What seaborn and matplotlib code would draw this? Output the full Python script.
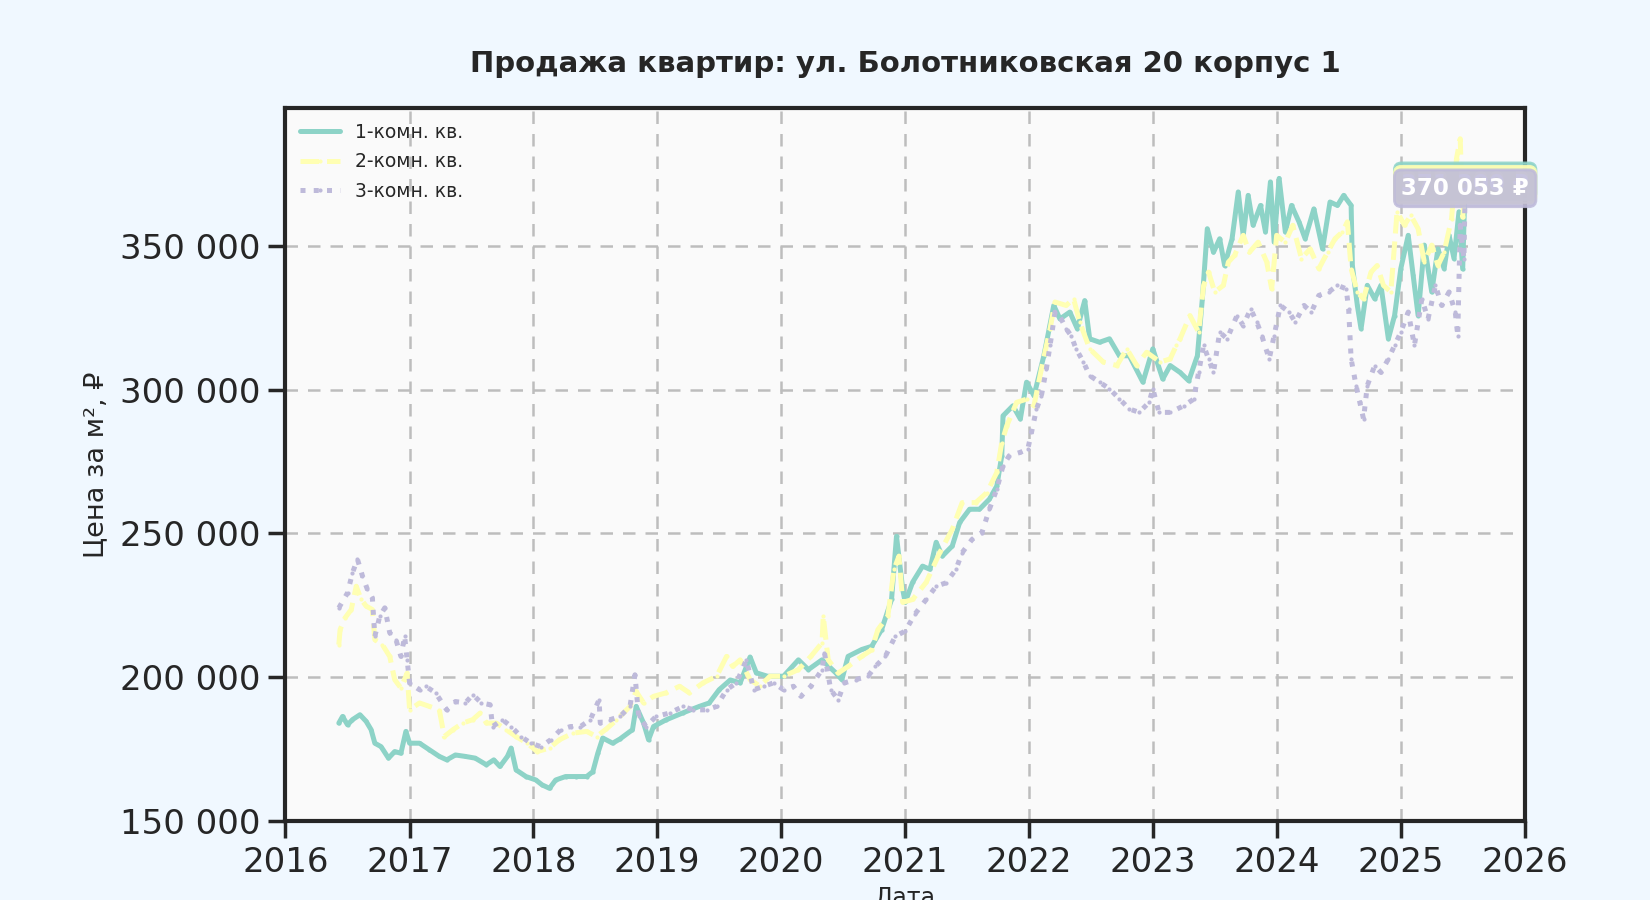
import numpy as np
import pandas as pd
import matplotlib
matplotlib.use("Agg")
import matplotlib.pyplot as plt
import matplotlib.ticker as mticker
import seaborn as sns

# ---------------- data (decimal year, price per m2) ----------------
t1 = [2016.43, 2016.46, 2016.50, 2016.54, 2016.60, 2016.65, 2016.69, 2016.72, 2016.77, 2016.83,
      2016.88, 2016.93, 2016.97, 2017.00, 2017.08, 2017.16, 2017.24, 2017.30, 2017.37, 2017.45,
      2017.53, 2017.62, 2017.68, 2017.73, 2017.79, 2017.82, 2017.86, 2017.94, 2018.02, 2018.07,
      2018.13, 2018.18, 2018.26, 2018.34, 2018.43, 2018.48, 2018.52, 2018.56, 2018.64, 2018.70,
      2018.80, 2018.83, 2018.89, 2018.93, 2018.97, 2019.07, 2019.21, 2019.34, 2019.42, 2019.50,
      2019.59, 2019.67, 2019.75, 2019.80, 2019.89, 2020.02, 2020.14, 2020.22, 2020.33, 2020.44,
      2020.49, 2020.54, 2020.65, 2020.73, 2020.81, 2020.89, 2020.93, 2020.98, 2021.00, 2021.06,
      2021.14, 2021.20, 2021.25, 2021.30, 2021.38, 2021.44, 2021.52, 2021.60, 2021.68, 2021.74,
      2021.78, 2021.79, 2021.87, 2021.93, 2021.98, 2022.04, 2022.12, 2022.20, 2022.25, 2022.33,
      2022.39, 2022.45, 2022.49, 2022.57, 2022.65, 2022.73, 2022.81, 2022.92, 2023.00, 2023.08,
      2023.14, 2023.22, 2023.29, 2023.36, 2023.40, 2023.44, 2023.49, 2023.54, 2023.58, 2023.64,
      2023.69, 2023.73, 2023.77, 2023.81, 2023.87, 2023.91, 2023.95, 2023.98, 2024.02, 2024.07,
      2024.12, 2024.18, 2024.23, 2024.30, 2024.37, 2024.43, 2024.49, 2024.54, 2024.60, 2024.61,
      2024.65, 2024.68, 2024.73, 2024.79, 2024.84, 2024.90, 2024.95, 2025.00, 2025.06, 2025.10,
      2025.14, 2025.19, 2025.25, 2025.30, 2025.35, 2025.39, 2025.43, 2025.47, 2025.50, 2025.52]
v1 = [184000, 186300, 183400, 185200, 186900, 184600, 181700, 177000, 175800, 171800,
      174100, 173500, 181100, 177000, 177000, 174700, 172400, 171200, 172900, 172400,
      171800, 169500, 171200, 168900, 172400, 175300, 167700, 165400, 164200, 162500,
      161300, 164200, 165400, 165400, 165400, 167100, 173500, 178800, 177000, 178500,
      181700, 189800, 184000, 178200, 182800, 185100, 187600, 189800, 191000, 195600,
      199000, 198000, 207000, 201500, 200300, 200300, 206000, 202600, 206000, 201500,
      199100, 207200, 209600, 210700, 216500, 227000, 249000, 230500, 226000, 233000,
      238600, 237500, 246900, 242100, 245600, 253800, 258400, 258400, 261900, 266500,
      277000, 290900, 294400, 289800, 302600, 297900, 311800, 329300, 324600, 327000,
      321200, 331000, 317700, 316500, 317700, 311800, 311800, 302600, 314200, 303700,
      308400, 306000, 303100, 311800, 331600, 356000, 347800, 352500, 343200, 352500,
      368800, 353700, 367600, 357200, 364100, 354900, 372300, 351300, 373500, 354900,
      364100, 358400, 352500, 362900, 349000, 365300, 364100, 367600, 364100, 343200,
      329300, 321200, 336300, 331600, 336300, 317700, 325800, 342100, 353700, 339800,
      325800, 350300, 334000, 349000, 342100, 353700, 345600, 361900, 342000, 372500]

t2 = [2016.43, 2016.44, 2016.48, 2016.53, 2016.57, 2016.61, 2016.65, 2016.70, 2016.72, 2016.78,
      2016.84, 2016.88, 2016.93, 2016.98, 2017.00, 2017.08, 2017.16, 2017.24, 2017.28, 2017.35,
      2017.43, 2017.51, 2017.57, 2017.62, 2017.70, 2017.78, 2017.86, 2017.95, 2018.03, 2018.13,
      2018.21, 2018.32, 2018.43, 2018.51, 2018.59, 2018.67, 2018.78, 2018.83, 2018.89, 2018.97,
      2019.07, 2019.18, 2019.26, 2019.37, 2019.48, 2019.56, 2019.61, 2019.67, 2019.75, 2019.83,
      2019.91, 2020.02, 2020.14, 2020.24, 2020.33, 2020.34, 2020.38, 2020.46, 2020.54, 2020.65,
      2020.73, 2020.78, 2020.86, 2020.91, 2020.95, 2020.98, 2021.06, 2021.17, 2021.28, 2021.38,
      2021.46, 2021.57, 2021.66, 2021.74, 2021.78, 2021.82, 2021.90, 2021.98, 2022.04, 2022.10,
      2022.17, 2022.21, 2022.30, 2022.36, 2022.41, 2022.49, 2022.60, 2022.71, 2022.79, 2022.87,
      2022.95, 2023.06, 2023.14, 2023.19, 2023.22, 2023.30, 2023.37, 2023.41, 2023.45, 2023.50,
      2023.57, 2023.61, 2023.66, 2023.73, 2023.78, 2023.85, 2023.92, 2023.96, 2024.00, 2024.07,
      2024.13, 2024.20, 2024.27, 2024.34, 2024.41, 2024.47, 2024.53, 2024.57, 2024.60, 2024.65,
      2024.70, 2024.76, 2024.81, 2024.86, 2024.92, 2024.97, 2025.03, 2025.08, 2025.14, 2025.19,
      2025.25, 2025.30, 2025.35, 2025.41, 2025.45, 2025.48, 2025.50, 2025.52]
v2 = [211300, 216500, 220600, 223500, 231600, 227000, 224700, 223500, 213000, 211300,
      207200, 199100, 196200, 201400, 188600, 191000, 189800, 188600, 179300, 181700,
      184000, 185200, 187500, 184000, 184000, 181700, 179300, 177000, 174100, 175300,
      178200, 180500, 181100, 179300, 182000, 185000, 189800, 195000, 191000, 193300,
      194500, 196800, 194500, 198000, 200300, 207200, 203700, 206000, 199100, 196800,
      200300, 200300, 202600, 207200, 211900, 221200, 206000, 201400, 203700, 207200,
      209500, 216500, 221200, 237500, 242100, 226000, 227000, 233000, 243400, 251400,
      260700, 260700, 264200, 271200, 281600, 287400, 295600, 296700, 294400, 307200,
      321200, 330500, 329300, 331600, 323500, 314200, 309600, 308400, 314200, 308400,
      313000, 309600, 310700, 315400, 317700, 325800, 320000, 336300, 340900, 334000,
      336300, 344400, 346700, 353700, 347800, 351300, 344400, 335100, 353700, 351300,
      357200, 345600, 349000, 342100, 347800, 352500, 354900, 358400, 342100, 334000,
      331600, 340900, 343200, 336300, 334000, 361900, 357200, 360700, 356000, 344400,
      350300, 343200, 347800, 359500, 380400, 387300, 360000, 371300]

t3 = [2016.43, 2016.50, 2016.54, 2016.58, 2016.62, 2016.66, 2016.70, 2016.72, 2016.76, 2016.80,
      2016.84, 2016.89, 2016.93, 2016.96, 2016.98, 2017.00, 2017.08, 2017.13, 2017.21, 2017.30,
      2017.37, 2017.45, 2017.51, 2017.58, 2017.65, 2017.67, 2017.75, 2017.82, 2017.90, 2017.98,
      2018.06, 2018.14, 2018.22, 2018.30, 2018.38, 2018.46, 2018.53, 2018.54, 2018.62, 2018.70,
      2018.78, 2018.82, 2018.85, 2018.91, 2018.99, 2019.10, 2019.21, 2019.29, 2019.40, 2019.48,
      2019.56, 2019.64, 2019.72, 2019.78, 2019.86, 2019.94, 2020.02, 2020.10, 2020.16, 2020.24,
      2020.33, 2020.35, 2020.40, 2020.46, 2020.51, 2020.60, 2020.70, 2020.76, 2020.84, 2020.92,
      2021.00, 2021.08, 2021.17, 2021.25, 2021.33, 2021.41, 2021.46, 2021.54, 2021.62, 2021.68,
      2021.74, 2021.79, 2021.84, 2021.93, 2021.99, 2022.02, 2022.06, 2022.10, 2022.14, 2022.17,
      2022.21, 2022.26, 2022.30, 2022.34, 2022.38, 2022.44, 2022.49, 2022.57, 2022.65, 2022.73,
      2022.81, 2022.89, 2022.97, 2023.00, 2023.05, 2023.14, 2023.25, 2023.33, 2023.37, 2023.41,
      2023.45, 2023.49, 2023.54, 2023.60, 2023.68, 2023.73, 2023.79, 2023.84, 2023.88, 2023.94,
      2023.98, 2024.03, 2024.10, 2024.15, 2024.22, 2024.28, 2024.34, 2024.42, 2024.49, 2024.56,
      2024.58, 2024.60, 2024.64, 2024.67, 2024.70, 2024.73, 2024.79, 2024.84, 2024.90, 2024.95,
      2025.00, 2025.06, 2025.11, 2025.17, 2025.22, 2025.28, 2025.33, 2025.39, 2025.44, 2025.46,
      2025.48, 2025.51, 2025.52]
v3 = [224100, 229300, 236300, 241000, 235200, 230500, 227600, 214200, 221200, 224100,
      215400, 213000, 207200, 214200, 206000, 197900, 195600, 196800, 194500, 188600,
      191500, 191000, 193900, 191000, 190400, 182800, 185200, 182800, 179300, 177000,
      175800, 178200, 181700, 182800, 182800, 185200, 192100, 184000, 185200, 186300,
      189800, 200800, 186300, 182800, 186300, 187500, 189800, 188600, 188600, 189800,
      195600, 198000, 206000, 195600, 196800, 198000, 195600, 196800, 193300, 196800,
      202600, 208400, 195600, 192100, 198000, 199100, 200300, 203700, 207200, 214200,
      216000, 222000, 227000, 231600, 232800, 237500, 243300, 247900, 250300, 258400,
      265400, 273500, 277000, 278200, 279300, 285100, 293200, 297900, 307200, 315400,
      327000, 324600, 321200, 318800, 314200, 309600, 304900, 302600, 300300, 296800,
      293300, 292100, 295600, 300300, 292100, 292100, 294400, 296700, 306000, 315400,
      310700, 306000, 320000, 317700, 325800, 322300, 328100, 323500, 318800, 310700,
      318800, 329300, 327000, 323500, 329300, 327000, 332800, 334000, 336300, 335100,
      328100, 310700, 301400, 295600, 289800, 301400, 308400, 306000, 310700, 315400,
      320000, 327000, 315400, 331600, 324600, 336300, 329300, 334000, 327000, 318800,
      357200, 345600, 370053]

series_names = ["1-комн. кв.", "2-комн. кв.", "3-комн. кв."]
year_ticks = list(range(2016, 2027))
y_ticks = [150000, 200000, 250000, 300000, 350000]
title = "Продажа квартир: ул. Болотниковская 20 корпус 1"


def to_dates(years):
    out = []
    for y in years:
        yr = int(np.floor(y))
        start = pd.Timestamp(year=yr, month=1, day=1)
        end = pd.Timestamp(year=yr + 1, month=1, day=1)
        out.append(start + (end - start) * (y - yr))
    return out


frames = []
for name, t, v in zip(series_names, [t1, t2, t3], [v1, v2, v3]):
    frames.append(pd.DataFrame({"date": to_dates(t), "price": v, "type": name}))
df = pd.concat(frames, ignore_index=True)

# ---------------- style ----------------
sns.set_theme(style="ticks")
plt.rcParams["font.family"] = ["DejaVu Sans"]

palette = sns.color_palette("Set3", 3)
styles = ["-", "--", ":"]

fig = plt.figure(figsize=(16.5, 9), dpi=100, facecolor="#F0F8FF")
ax = fig.add_axes([0.173, 0.088, 0.751, 0.792])
ax.set_facecolor("#FAFAFA")

for name, col, ls in zip(series_names, palette, styles):
    sub = df[df["type"] == name]
    sns.lineplot(data=sub, x="date", y="price", ax=ax, color=col, linestyle=ls,
                 linewidth=3.6, marker="o", markersize=3, markeredgewidth=0,
                 label=name, estimator=None)

ax.set_xlim(pd.Timestamp("2016-01-01"), pd.Timestamp("2026-01-01"))
ax.set_ylim(150000, 398000)
ax.set_xticks([pd.Timestamp(year=y, month=1, day=1) for y in year_ticks])
ax.set_xticklabels([str(y) for y in year_ticks])
ax.set_yticks(y_ticks)
ax.yaxis.set_major_formatter(mticker.FuncFormatter(lambda v, p: f"{v:,.0f}".replace(",", " ")))

ax.grid(True, linestyle="--", color="#bdbdbd", linewidth=1.8, dashes=(5, 4))
for s in ax.spines.values():
    s.set_color("#262626")
    s.set_linewidth(3)
ax.tick_params(axis="both", labelsize=24.5, length=12, width=2.5, pad=6, colors="#262626")

ax.set_title(title, fontsize=21, fontweight="bold", pad=26, color="#262626")
ax.set_ylabel("Цена за м², ₽", fontsize=19.5, color="#262626", labelpad=8)
ax.set_xlabel("Дата", fontsize=17, color="#262626", labelpad=5)

leg = ax.legend(loc="upper left", fontsize=13.5, frameon=False, handlelength=2.1,
                borderaxespad=0.4, labelspacing=0.55)

# annotations of last values (stacked)
for (t, v), col in zip([(t1, v1), (t2, v2), (t3, v3)], palette):
    d_last = to_dates([t[-1]])[0]
    ax.annotate(f"{v[-1]:,.0f} ₽".replace(",", " "), xy=(d_last, v[-1]),
                xytext=(d_last, v[-1]), ha="center", va="center",
                fontsize=16.5, fontweight="bold", color="white",
                bbox=dict(boxstyle="round,pad=0.3", fc=col, ec=col, alpha=0.85, lw=2))

fig.savefig("out.png", dpi=100, facecolor=fig.get_facecolor())
